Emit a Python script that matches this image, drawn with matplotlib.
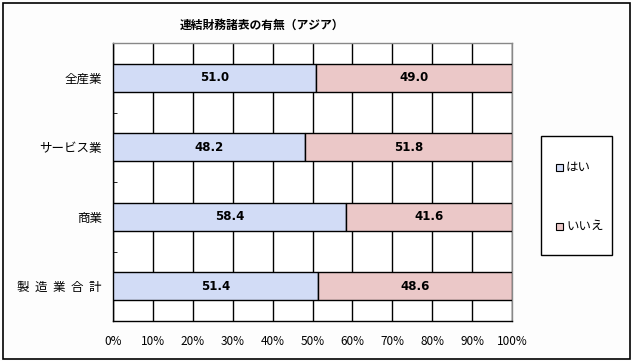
import matplotlib
matplotlib.use("Agg")
import matplotlib.pyplot as plt
from matplotlib.patches import Rectangle
import numpy as np

plt.rcParams['font.family'] = ['Noto Sans CJK JP', 'DejaVu Sans']

categories = ["全産業", "サービス業", "商業", "製  造  業  合  計"]
yes_vals = [51.0, 48.2, 58.4, 51.4]
no_vals = [49.0, 51.8, 41.6, 48.6]
series_names = ["はい", "いいえ"]
xticklabels = ["0%", "10%", "20%", "30%", "40%", "50%", "60%", "70%", "80%", "90%", "100%"]
title = "連結財務諸表の有無（アジア）"

W, H = 631, 361
fig = plt.figure(figsize=(W / 100, H / 100), dpi=100, facecolor="#fdfdfd")

# outer frame
fig.patches.append(Rectangle((3 / W, 2 / H), 627 / W, 356 / H, transform=fig.transFigure,
                             fill=False, edgecolor="black", linewidth=1.2))

left, right, top, bottom = 113, 512, 43, 321
ax = fig.add_axes([left / W, 1 - bottom / H, (right - left) / W, (bottom - top) / H])
ax.set_facecolor("white")

c_yes = "#d2dcf6"
c_no = "#ebc8c8"
y = np.arange(len(categories))
h = 0.4
ax.barh(y, yes_vals, height=h, color=c_yes, edgecolor="black", linewidth=1.0, zorder=3, label=series_names[0])
ax.barh(y, no_vals, left=yes_vals, height=h, color=c_no, edgecolor="black", linewidth=1.0, zorder=3, label=series_names[1])

for i in range(len(categories)):
    ax.text(yes_vals[i] / 2, y[i], f"{yes_vals[i]:.1f}", ha="center", va="center",
            fontsize=8.5, fontweight="bold", zorder=4, family="DejaVu Sans")
    ax.text(yes_vals[i] + no_vals[i] / 2, y[i], f"{no_vals[i]:.1f}", ha="center", va="center",
            fontsize=8.5, fontweight="bold", zorder=4, family="DejaVu Sans")

ax.set_xlim(0, 100)
ax.set_ylim(len(categories) - 0.5, -0.5)
ax.set_xticks(np.arange(0, 101, 10))
ax.set_xticklabels(xticklabels, fontsize=8.5)
ax.tick_params(axis="x", length=0, pad=10)
ax.set_yticks(y)
ax.set_yticklabels(categories, fontsize=9)
ax.tick_params(axis="y", length=0, pad=8)
ax.set_yticks(np.arange(0.5, len(categories) - 1, 1), minor=True)
ax.tick_params(axis="y", which="minor", direction="in", length=3, color="black")
ax.xaxis.grid(True, color="black", linewidth=1.0, zorder=0)
ax.set_axisbelow(True)
for s in ["left", "bottom"]:
    ax.spines[s].set_color("black")
    ax.spines[s].set_linewidth(1.0)
for s in ["top", "right"]:
    ax.spines[s].set_color("#888888")
    ax.spines[s].set_linewidth(1.0)

fig.text(262 / W, 1 - 25 / H, title, ha="center", va="center", fontsize=8.5, fontweight="bold")

# legend box
fig.patches.append(Rectangle((541 / W, 1 - 255 / H), 71 / W, 119 / H, transform=fig.transFigure,
                             fill=True, facecolor="white", edgecolor="black", linewidth=1.0))
for yy, col, name in [(167, c_yes, series_names[0]), (226, c_no, series_names[1])]:
    fig.patches.append(Rectangle((556 / W, 1 - (yy + 3.5) / H), 7 / W, 7 / H, transform=fig.transFigure,
                                 facecolor=col, edgecolor="black", linewidth=0.8))
    fig.text(566 / W, 1 - yy / H, name, ha="left", va="center", fontsize=9)

fig.savefig("out.png", dpi=100, facecolor=fig.get_facecolor())
